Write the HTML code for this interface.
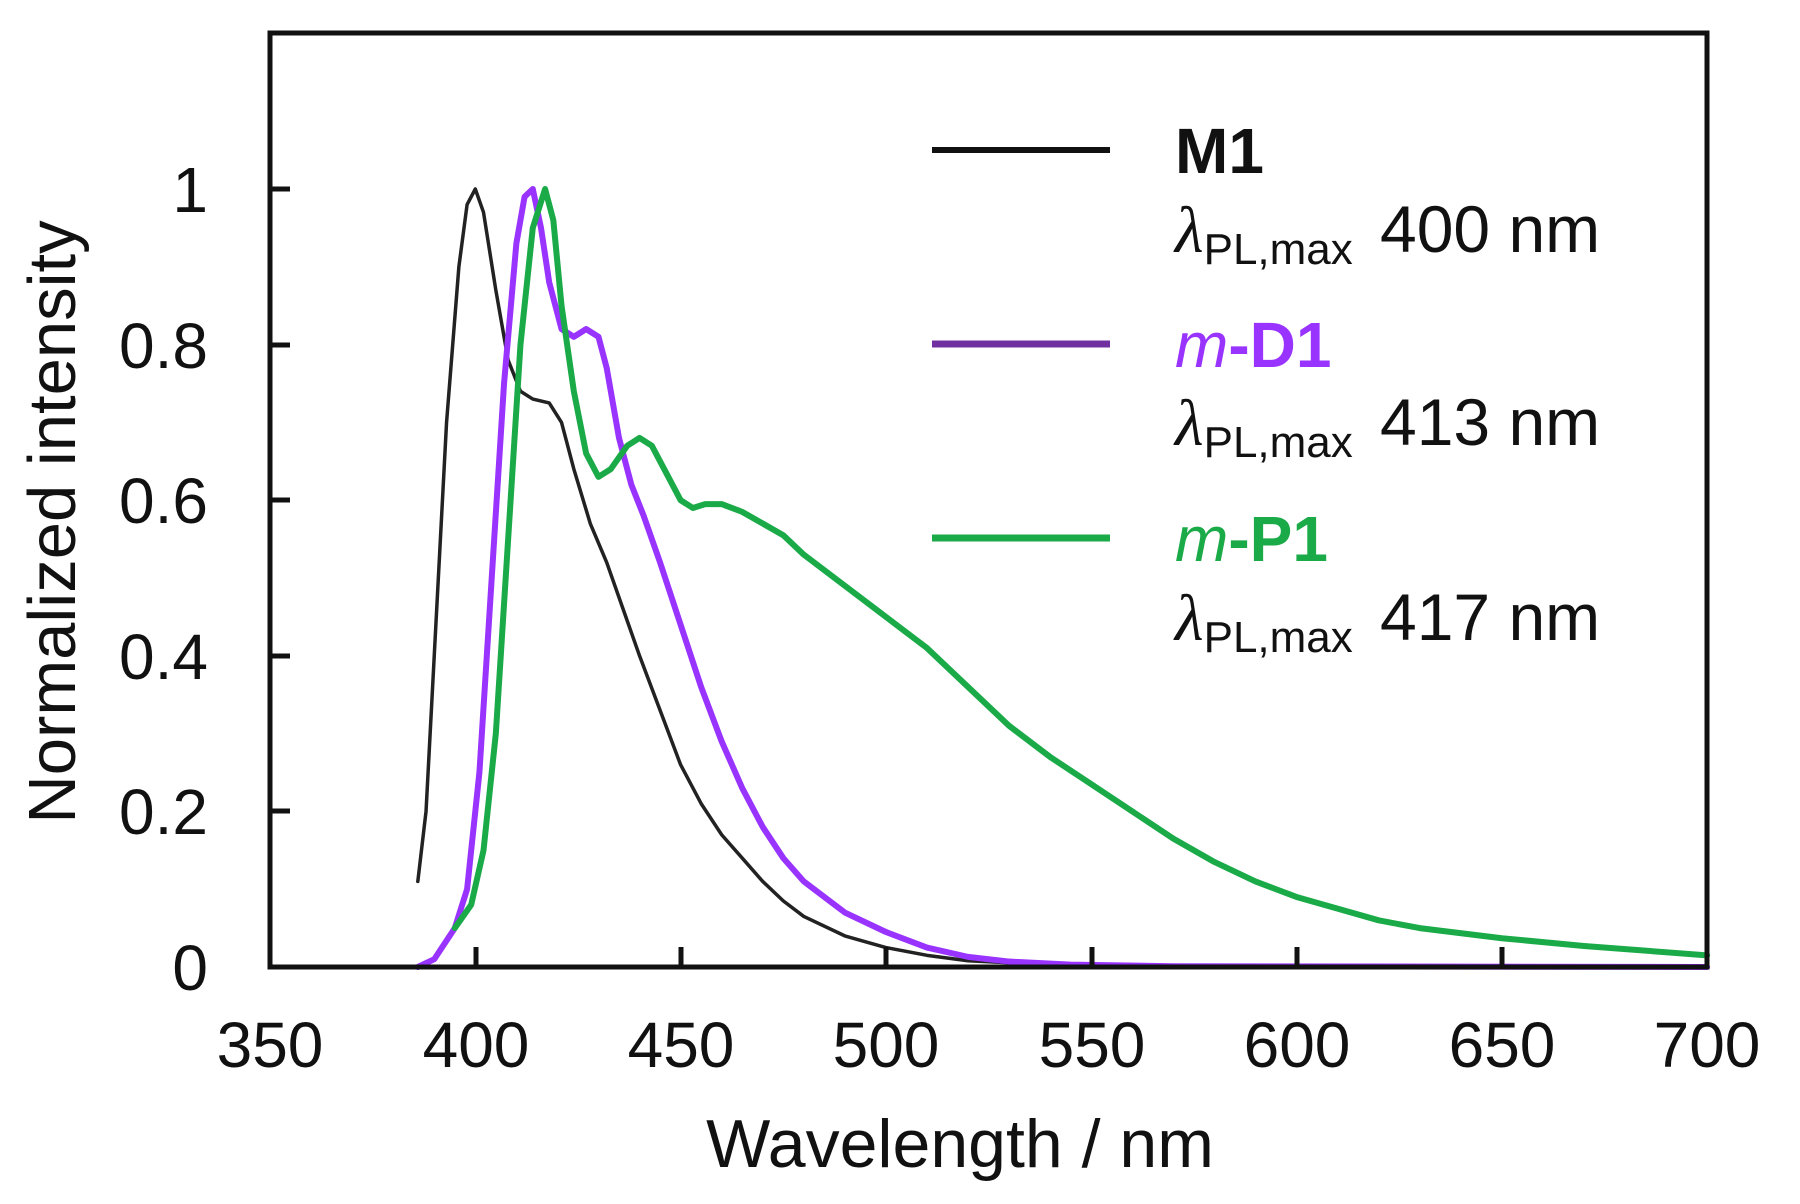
<!DOCTYPE html>
<html><head><meta charset="utf-8"><style>
html,body{margin:0;padding:0;background:#fff}
svg{display:block}
text{font-family:"Liberation Sans",Arial,sans-serif;fill:#111}
</style></head><body>
<svg width="1800" height="1204" viewBox="0 0 1800 1204" xmlns="http://www.w3.org/2000/svg">
<g transform="matrix(4.106,0,0,-778,-1167.1,967)" fill="none" stroke-linejoin="round" stroke-linecap="round">
<polyline vector-effect="non-scaling-stroke" stroke="#222" stroke-width="3.5" points="386,0.11 388,0.2 390,0.4 393,0.7 396,0.9 398,0.98 400,1.0 402,0.97 405,0.87 408,0.78 411,0.74 414,0.73 418,0.725 421,0.70 424,0.64 428,0.57 432,0.52 436,0.46 440,0.40 445,0.33 450,0.26 455,0.21 460,0.17 465,0.14 470,0.11 475,0.085 480,0.065 490,0.04 500,0.025 510,0.015 520,0.008 540,0.003 560,0.001 627,0"/>
<polyline vector-effect="non-scaling-stroke" stroke="#9933ff" stroke-width="6" points="386,0 390,0.01 395,0.05 398,0.1 401,0.25 404,0.5 407,0.75 410,0.93 412,0.99 414,1.0 416,0.95 418,0.88 421,0.82 424,0.81 427,0.82 430,0.81 432,0.77 435,0.68 438,0.62 441,0.58 445,0.52 450,0.44 455,0.36 460,0.29 465,0.23 470,0.18 475,0.14 480,0.11 490,0.07 500,0.045 510,0.025 520,0.013 530,0.007 545,0.003 570,0.001 700,0"/>
<polyline vector-effect="non-scaling-stroke" stroke="#1aaa48" stroke-width="6" points="395,0.05 399,0.08 402,0.15 405,0.3 408,0.55 411,0.8 414,0.95 417,1.0 419,0.96 421,0.85 424,0.74 427,0.66 430,0.63 433,0.64 437,0.67 440,0.68 443,0.67 446,0.64 450,0.6 453,0.59 456,0.595 460,0.595 465,0.585 470,0.57 475,0.555 480,0.53 490,0.49 500,0.45 510,0.41 520,0.36 530,0.31 540,0.27 550,0.235 560,0.2 570,0.165 580,0.135 590,0.11 600,0.09 610,0.075 620,0.06 630,0.05 650,0.037 670,0.027 700,0.015"/>
</g>
<rect x="270" y="33" width="1437" height="934" fill="none" stroke="#111" stroke-width="5"/>
<g stroke="#111" stroke-width="5">
<line x1="476" y1="967" x2="476" y2="947"/><line x1="681" y1="967" x2="681" y2="947"/>
<line x1="886" y1="967" x2="886" y2="947"/><line x1="1092" y1="967" x2="1092" y2="947"/>
<line x1="1297" y1="967" x2="1297" y2="947"/><line x1="1502" y1="967" x2="1502" y2="947"/>
<line x1="270" y1="811" x2="290" y2="811"/><line x1="270" y1="656" x2="290" y2="656"/>
<line x1="270" y1="500" x2="290" y2="500"/><line x1="270" y1="345" x2="290" y2="345"/>
<line x1="270" y1="189" x2="290" y2="189"/>
</g>
<g font-size="64" text-anchor="middle">
<text x="270" y="1067">350</text><text x="476" y="1067">400</text><text x="681" y="1067">450</text>
<text x="886" y="1067">500</text><text x="1092" y="1067">550</text><text x="1297" y="1067">600</text>
<text x="1502" y="1067">650</text><text x="1707" y="1067">700</text>
</g>
<g font-size="64" text-anchor="end">
<text x="208" y="990">0</text><text x="208" y="834">0.2</text><text x="208" y="679">0.4</text>
<text x="208" y="523">0.6</text><text x="208" y="368">0.8</text><text x="208" y="212">1</text>
</g>
<text x="960" y="1167" font-size="68" text-anchor="middle">Wavelength / nm</text>
<text transform="translate(75,522) rotate(-90)" font-size="67" text-anchor="middle">Normalized intensity</text>
<line x1="932" y1="150" x2="1110" y2="150" stroke="#111" stroke-width="6"/>
<line x1="932" y1="344" x2="1110" y2="344" stroke="#7030a0" stroke-width="7"/>
<line x1="932" y1="538" x2="1110" y2="538" stroke="#1aaa48" stroke-width="7"/>
<text x="1175" y="173" font-size="64" font-weight="bold">M1</text>
<text x="1175" y="367" font-size="64" font-weight="bold" style="fill:#9933ff"><tspan font-style="italic" font-weight="normal">m</tspan>-D1</text>
<text x="1175" y="561" font-size="64" font-weight="bold" style="fill:#1aaa48"><tspan font-style="italic" font-weight="normal">m</tspan>-P1</text>
<g font-size="66">
<text x="1175" y="252"><tspan font-style="italic" font-family="Liberation Serif">λ</tspan><tspan font-size="44" dy="12">PL,max</tspan><tspan dy="-12" x="1380">400 nm</tspan></text>
<text x="1175" y="445"><tspan font-style="italic" font-family="Liberation Serif">λ</tspan><tspan font-size="44" dy="12">PL,max</tspan><tspan dy="-12" x="1380">413 nm</tspan></text>
<text x="1175" y="640"><tspan font-style="italic" font-family="Liberation Serif">λ</tspan><tspan font-size="44" dy="12">PL,max</tspan><tspan dy="-12" x="1380">417 nm</tspan></text>
</g>
</svg>
</body></html>
